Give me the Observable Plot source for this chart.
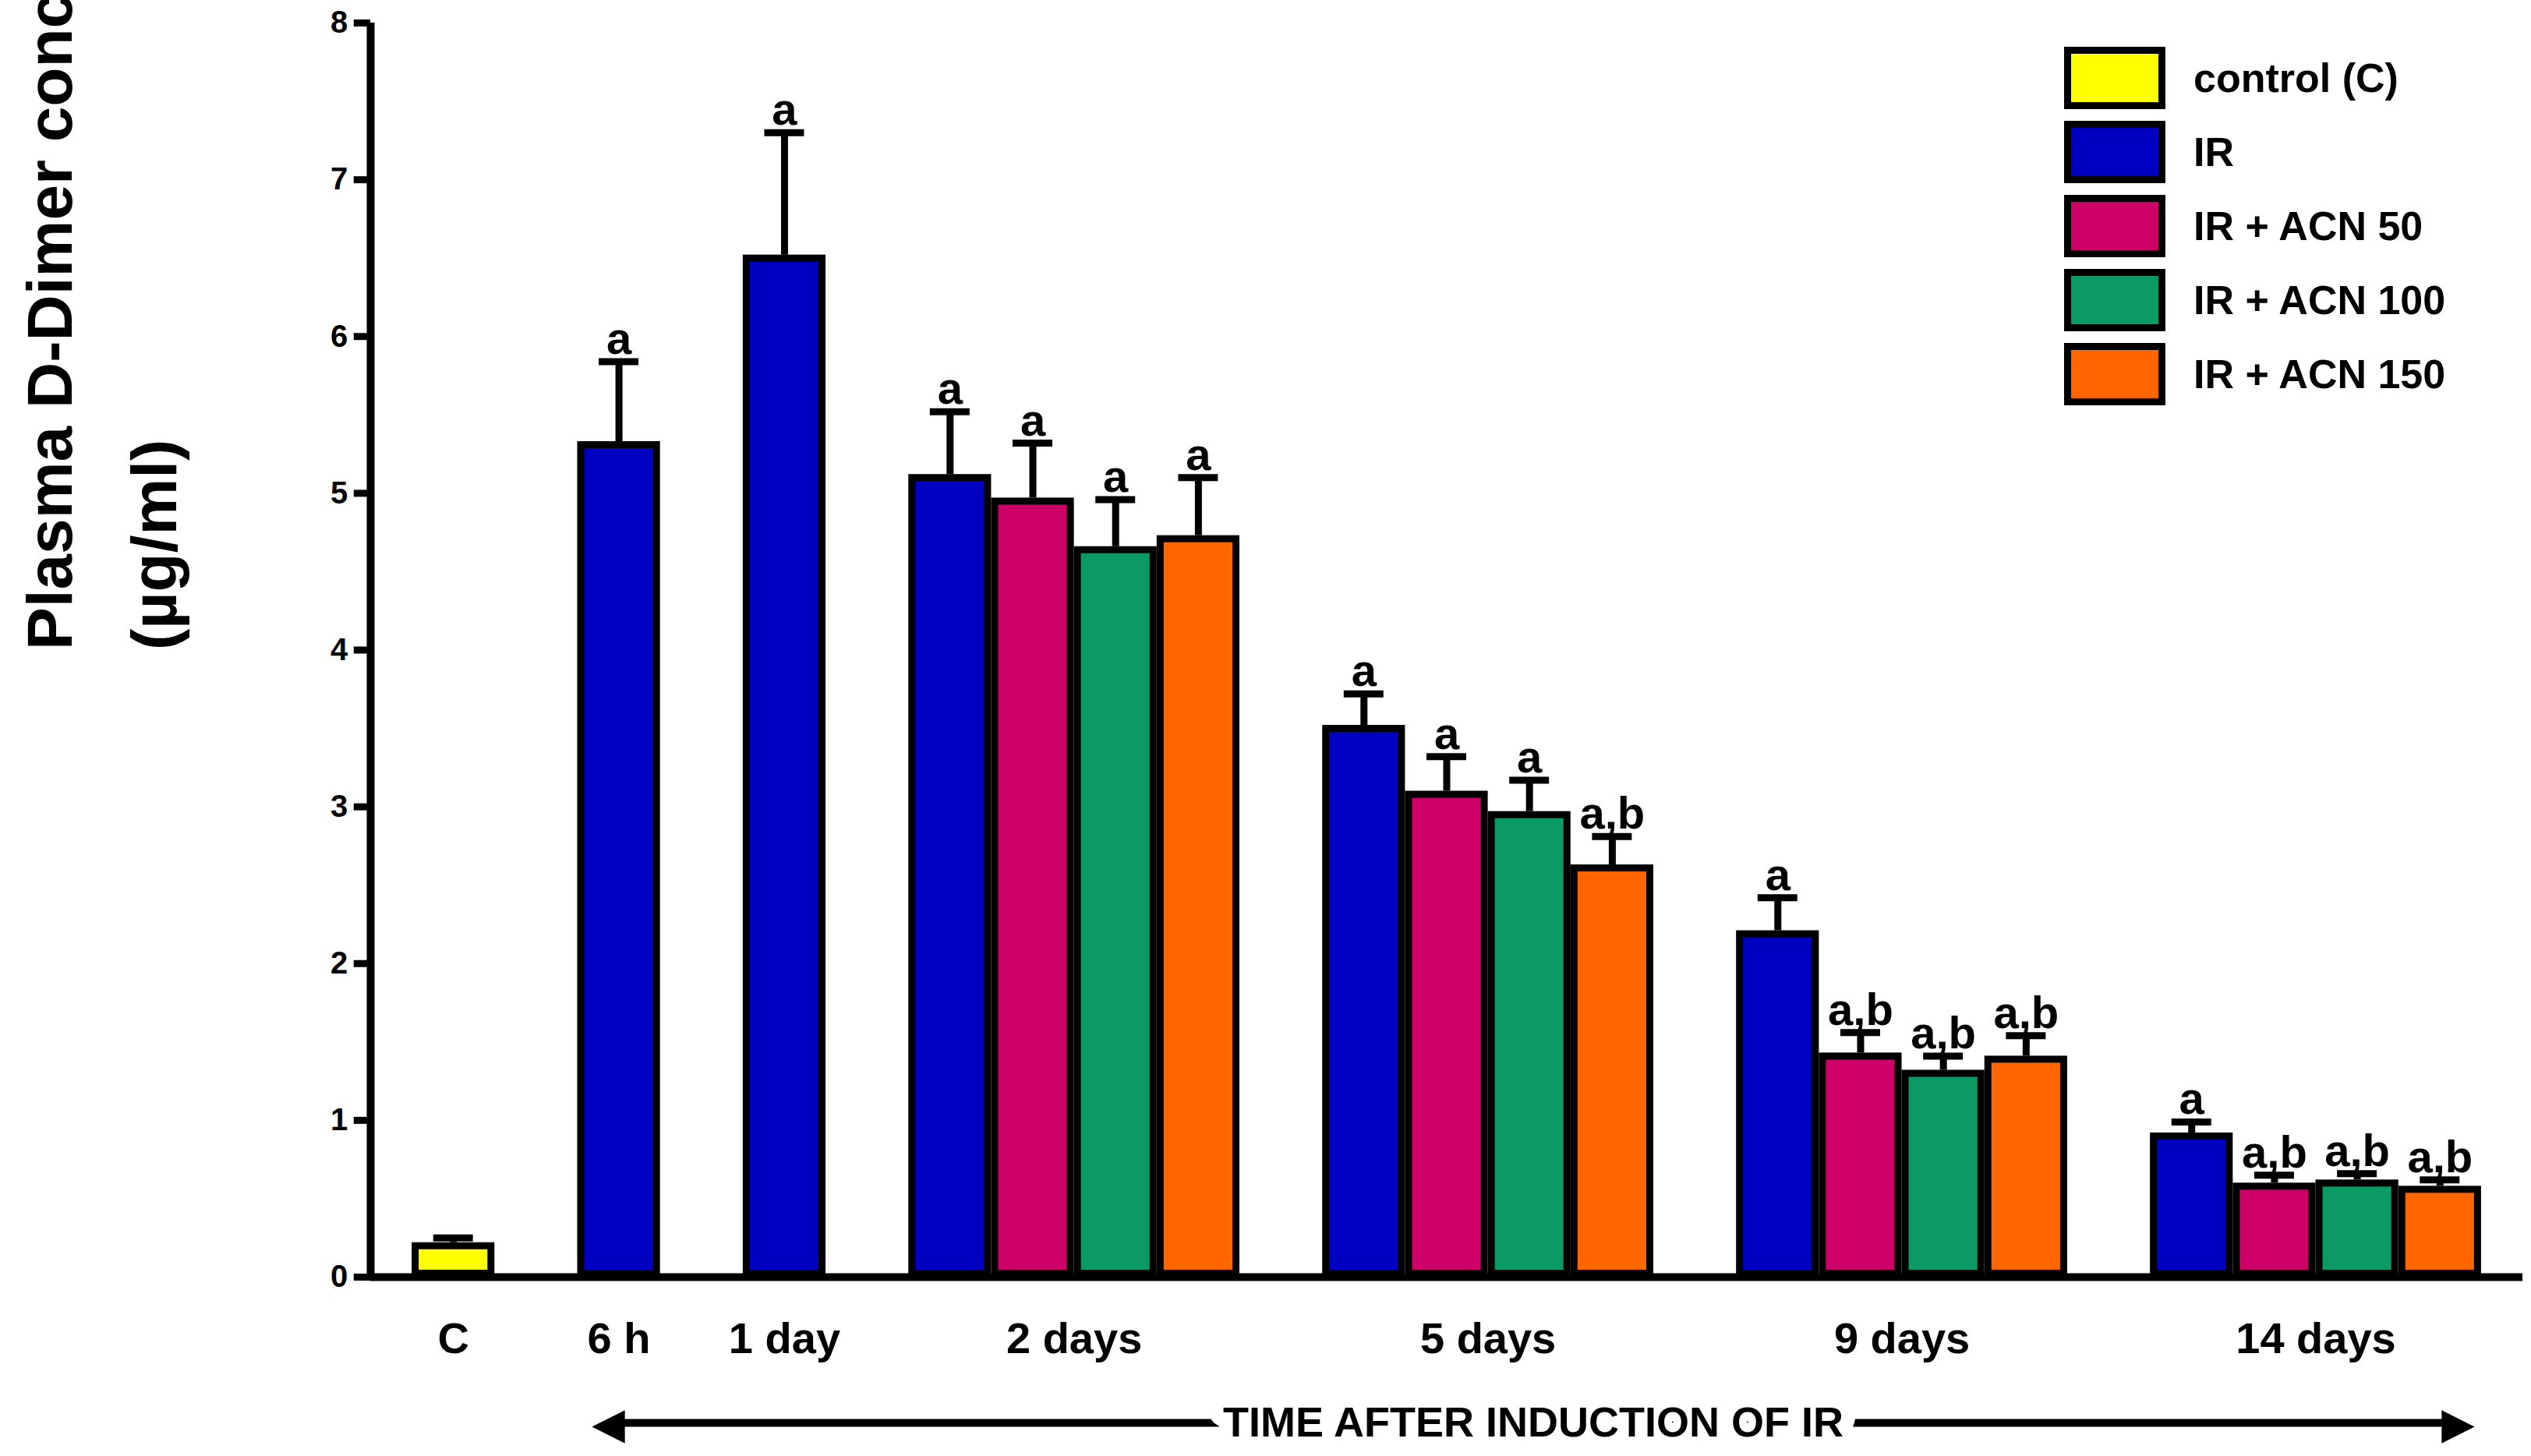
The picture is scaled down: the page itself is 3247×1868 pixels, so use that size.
<!DOCTYPE html>
<html><head><meta charset="utf-8">
<script src="https://cdn.jsdelivr.net/npm/d3@7"></script>
<script src="https://cdn.jsdelivr.net/npm/@observablehq/plot@0.6"></script>
<style>
body{margin:0;background:#fff;font-family:"Liberation Sans",Arial,sans-serif;}
#wrap{position:relative;width:3247px;height:1868px;}
#legend{position:absolute;left:2648px;top:52px;font-weight:bold;font-size:52px;}
.row{display:flex;align-items:center;height:95px;}
.sw{width:130px;height:80px;border:9px solid #000;box-sizing:border-box;margin-right:36px;}
</style></head>
<body><div id="wrap"></div>
<script>
const groups = ["C","6 h","1 day","2 days","5 days","9 days","14 days"];
const series = ["control (C)","IR","IR + ACN 50","IR + ACN 100","IR + ACN 150"];
const colors = ["#ffff00","#0000c0","#cc0066","#0b9a63","#ff6600"];
const groupSeries = [[0],[1],[1],[1,2,3,4],[1,2,3,4],[1,2,3,4],[1,2,3,4]];
const means = [[0.22],[5.33],[6.52],[5.12,4.97,4.66,4.73],[3.52,3.10,2.97,2.63],[2.21,1.43,1.32,1.41],[0.92,0.60,0.62,0.58]];
const errTop = [[0.25],[5.84],[7.30],[5.52,5.32,4.96,5.10],[3.72,3.32,3.17,2.81],[2.42,1.56,1.41,1.54],[0.99,0.65,0.66,0.62]];
const letters = [[""],["a"],["a"],["a","a","a","a"],["a","a","a","a,b"],["a","a,b","a,b","a,b"],["a","a,b","a,b","a,b"]];
const yTicks = [0,1,2,3,4,5,6,7,8];

const bars = [], gcenters = [];
let slot = 0.5;
groups.forEach((g,gi)=>{
  const start = slot;
  groupSeries[gi].forEach((s,k)=>{
    bars.push({group:g, series:series[s], color:colors[s], x1:slot, x2:slot+1, xc:slot+0.5,
               v:means[gi][k], e:errTop[gi][k], lab:letters[gi][k]});
    slot += 1;
  });
  gcenters.push({g, x:(start+slot)/2});
  slot += 1;
});
const xmax = slot - 0.5;
const arrowY = -0.93, arrowL = 2.69, arrowR = 25.4, arrowMid = (arrowL+arrowR)/2;

const font = {fontFamily:"Liberation Sans, Arial, sans-serif", fontWeight:"bold"};
const chart = Plot.plot({
  width:3247, height:1868,
  marginLeft:475, marginRight:11, marginTop:29, marginBottom:230,
  style:{fontFamily:"Liberation Sans, Arial, sans-serif", fontWeight:"bold", background:"white", overflow:"visible"},
  x:{type:"linear", domain:[0,xmax], axis:null},
  y:{type:"linear", domain:[0,8], axis:null},
  marks:[
    Plot.ruleX(bars,{x:"xc", y1:"v", y2:"e", stroke:"#000", strokeWidth:9}),
    Plot.ruleY(bars,{x1:d=>d.xc-0.24, x2:d=>d.xc+0.24, y:"e", stroke:"#000", strokeWidth:9}),
    Plot.rect(bars,{x1:"x1", x2:"x2", y1:0, y2:"v", fill:"color", stroke:"#000", strokeWidth:9, inset:4.5}),
    Plot.text(bars,{x:"xc", y:"e", text:"lab", dy:-10, lineAnchor:"bottom", fontSize:58, ...font}),
    Plot.ruleX([0],{y1:0, y2:8, stroke:"#000", strokeWidth:10}),
    Plot.ruleY([0],{x1:0, x2:xmax, stroke:"#000", strokeWidth:10}),
    Plot.ruleY(yTicks,{y:d=>d, x1:-0.2, x2:0, stroke:"#000", strokeWidth:9}),
    Plot.text(yTicks,{y:d=>d, x:-0.2, dx:-8, textAnchor:"end", text:d=>String(d), fontSize:40, ...font}),
    Plot.text(gcenters,{x:"x", y:0, text:"g", dy:80, fontSize:56, ...font}),
    Plot.ruleY([arrowY],{x1:arrowL+0.3, x2:arrowR-0.3, stroke:"#000", strokeWidth:10}),
    Plot.text([0],{x:arrowL, y:arrowY, text:()=>"◀", textAnchor:"start", fontSize:52, fill:"#000", dy:2}),
    Plot.text([0],{x:arrowR, y:arrowY, text:()=>"▶", textAnchor:"end", fontSize:52, fill:"#000", dy:2}),
    Plot.text(["TIME AFTER INDUCTION OF IR"],{x:arrowMid, y:arrowY, text:d=>d, fontSize:54, fill:"#000", stroke:"white", strokeWidth:36, paintOrder:"stroke", ...font}),
    Plot.text(["Plasma D-Dimer concentration"],{frameAnchor:"left", dx:-410, rotate:-90, text:d=>d, fontSize:82, ...font}),
    Plot.text(["(µg/ml)"],{frameAnchor:"left", dx:-276, rotate:-90, text:d=>d, fontSize:82, ...font})
  ]
});
const wrap = document.getElementById("wrap");
wrap.appendChild(chart);
const leg = document.createElement("div"); leg.id="legend";
series.forEach((s,i)=>{
  const r=document.createElement("div"); r.className="row";
  r.innerHTML=`<div class="sw" style="background:${colors[i]}"></div><span>${s}</span>`;
  leg.appendChild(r);
});
wrap.appendChild(leg);
</script></body></html>
